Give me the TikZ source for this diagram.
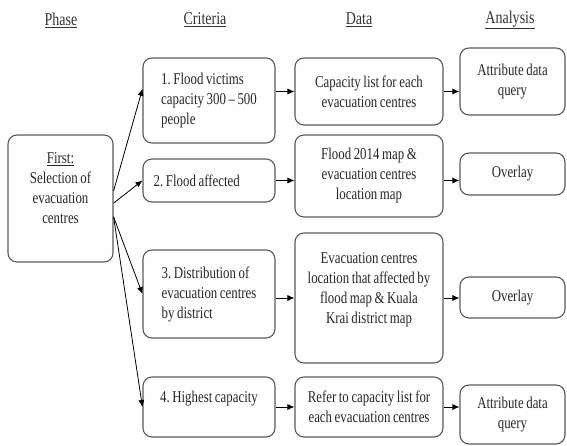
\documentclass[tikz,border=0pt]{standalone}
\usepackage{fontspec}
\setmainfont{Liberation Serif}[FakeStretch=0.78,WordSpace=0.8]
\frenchspacing
\usetikzlibrary{
  arrows.meta,
  calc,
}
\tikzset{
  >={Latex[length=7pt,width=6pt]},
  box/.style={draw=black!65, line width=1.1pt, rounded corners=9pt,
    align=center, inner sep=2pt, text=black!85,
    font=\fontsize{16.5}{20}\selectfont},
  critbox/.style={box, align=left, minimum width=132pt},
  databox/.style={box, minimum width=148pt},
  anabox/.style={box, minimum width=105pt},
  head/.style={text=black!80, font=\fontsize{18}{21}\selectfont},
  link/.style={->, line width=0.8pt},
}

\begin{document}
\begin{tikzpicture}[x=1pt,y=-1pt]
      \useasboundingbox (0,0) rectangle (567,446);
      \node [head] (phasehead) at (61,20) {\underline{Phase}};
      \node [head] (crithead) at (205,20) {\underline{Criteria}};
      \node [head] (datahead) at (359,20) {\underline{Data}};
      \node [head] (anahead) at (510,20) {\underline{Analysis}};

      \node [box, minimum width=105pt, minimum height=127pt] (phase)
        at (60.5,198.5) {\underline{First:}\\Selection of\\evacuation\\centres\\ \mbox{}};

      \node [critbox, minimum height=85pt] (crit1) at (209,100.5) {
        1. Flood victims\\capacity 300 -- 500\\people
      };
      \node [critbox, minimum height=43pt] (crit2) at (209,180.5) {
        2. Flood affected\hspace{22pt}
      };
      \node [critbox, minimum height=88pt] (crit3) at (209,294) {
        3. Distribution of\\evacuation centres\\by district
      };
      \node [critbox, minimum height=60pt] (crit4) at (209,407) {
        4. Highest capacity\\ \mbox{}
      };

      \node [databox, minimum height=67pt] (data1) at (369,91.5) {
        Capacity list for each\\evacuation centres
      };
      \node [databox, minimum height=82pt] (data2) at (369,176) {
        Flood 2014 map \&\\evacuation centres\\location map
      };
      \node [databox, minimum height=130pt] (data3) at (369,298) {
        Evacuation centres\\location that affected by\\flood map \& Kuala\\Krai district map\\ \mbox{}
      };
      \node [databox, minimum height=60pt] (data4) at (369,407) {
        Refer to capacity list for\\each evacuation centres
      };

      \node [anabox, minimum height=67pt] (ana1) at (512.5,81.5) {
        Attribute data\\query
      };
      \node [anabox, minimum height=42pt] (ana2) at (512.5,174) {Overlay};
      \node [anabox, minimum height=41pt] (ana3) at (512.5,297.5) {Overlay};
      \node [anabox, minimum height=59pt] (ana4) at (512.5,414.5) {
        Attribute data\\query
      };

      \draw [link] (phase.8) -- (crit1.170);
      \draw [link] (phase.-5) -- (crit2.west);
      \draw [link] (phase.-19) -- (crit3.west);
      \draw [link] (phase.-19) -- (crit4.west);

      \draw [link] (data1.west -| crit1.east) -- (data1.west);
      \draw [link] (crit2.east) -- (crit2.east -| data2.west);
      \draw [link] (data3.west -| crit3.east) -- (data3.west);
      \draw [link] (data4.west -| crit4.east) -- (data4.west);

      \draw [link] (data1.east) -- (data1.east -| ana1.west);
      \draw [link] (crit2.east -| data2.east) -- (crit2.east -| ana2.west);
      \draw [link] (data3.east) -- (data3.east -| ana3.west);
      \draw [link] (data4.east) -- (data4.east -| ana4.west);
    \end{tikzpicture}
\end{document}
